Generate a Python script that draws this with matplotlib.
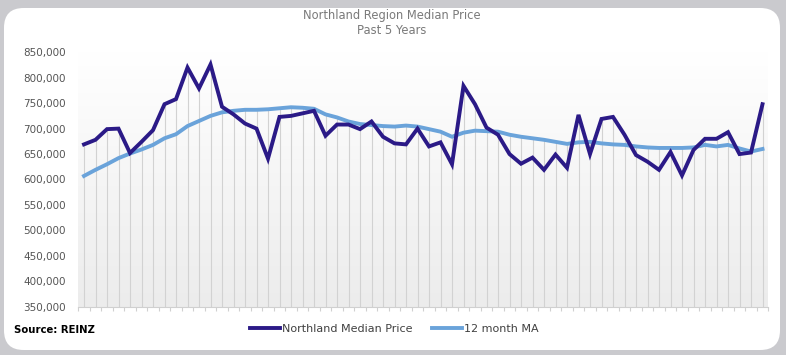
import matplotlib.pyplot as plt
import numpy as np
from matplotlib.colors import LinearSegmentedColormap
from matplotlib.patches import FancyBboxPatch
from matplotlib.ticker import FuncFormatter

# Monthly values, last 5 years (60 months)
median_price = [
    669000, 678000, 699000, 700000, 652000, 674000, 697000, 748000, 758000, 820000,
    779000, 826000, 743000, 728000, 710000, 700000, 641000, 723000, 725000, 730000,
    735000, 686000, 708000, 708000, 699000, 714000, 684000, 671000, 669000, 700000,
    665000, 673000, 630000, 784000, 748000, 702000, 688000, 650000, 631000, 643000,
    619000, 649000, 623000, 727000, 650000, 719000, 723000, 688000, 648000, 635000,
    619000, 654000, 608000, 658000, 680000, 680000, 693000, 650000, 653000, 748000,
]
moving_avg = [
    607000, 619000, 630000, 642000, 651000, 659000, 668000, 681000, 689000, 705000,
    715000, 725000, 732000, 735000, 737000, 737000, 738000, 740000, 742000, 741000,
    739000, 728000, 722000, 714000, 709000, 707000, 705000, 704000, 706000, 704000,
    699000, 694000, 684000, 692000, 696000, 695000, 694000, 688000, 684000, 681000,
    678000, 674000, 670000, 673000, 674000, 671000, 669000, 668000, 665000, 663000,
    662000, 662000, 662000, 663000, 668000, 665000, 668000, 661000, 655000, 660000,
]
series_labels = ['Northland Median Price', '12 month MA']

DARK = '#2b1a87'
LIGHT = '#6aa3da'
TICK_GREY = '#555555'

fig = plt.figure(figsize=(7.86, 3.55), dpi=100)
fig.patch.set_facecolor('#cacace')

# white card behind the chart
card = FancyBboxPatch((4 / 786, 5 / 355), 776 / 786, 342 / 355,
                      boxstyle='round,pad=0,rounding_size=0.025',
                      transform=fig.transFigure, facecolor='white',
                      edgecolor='none', zorder=-1, mutation_aspect=786 / 355)
fig.patches.append(card)

ax = fig.add_axes([78.25 / 786, 1 - 306.7 / 355, 690 / 786, 254.4 / 355])
ax.set_zorder(2)
ax.set_facecolor('none')

x = np.arange(len(median_price))
ax.set_xlim(-0.5, len(median_price) - 0.5)
ax.set_ylim(350000, 850000)

# soft vertical gradient in the plot area
grad = np.linspace(1, 0, 256).reshape(-1, 1)
bg_cmap = LinearSegmentedColormap.from_list('bg', ['#ececec', '#ffffff'])
ax.imshow(grad, extent=(-0.5, len(median_price) - 0.5, 350000, 850000),
          aspect='auto', cmap=bg_cmap, vmin=0, vmax=1, zorder=0)

# drop lines
tops = np.maximum(median_price, moving_avg)
ax.vlines(x, 350000, tops, color='#d2d2d2', linewidth=0.8, zorder=1)

ax.plot(x, median_price, color=DARK, linewidth=2.8, label=series_labels[0],
        zorder=3, solid_joinstyle='miter')
ax.plot(x, moving_avg, color=LIGHT, linewidth=2.8, label=series_labels[1], zorder=2)

for side in ['top', 'right', 'left']:
    ax.spines[side].set_visible(False)
ax.spines['bottom'].set_color('#d0d0d0')
ax.spines['bottom'].set_linewidth(0.8)

ax.set_xticks(np.arange(-0.5, len(median_price), 1))
ax.tick_params(axis='x', length=3, width=0.8, color='#d0d0d0', labelbottom=False)
ax.set_yticks(np.arange(350000, 850001, 50000))
ax.yaxis.set_major_formatter(FuncFormatter(lambda v, p: f'{int(v):,}'))
ax.tick_params(axis='y', length=0, pad=9, labelsize=7.5, labelcolor=TICK_GREY)

fig.text(392 / 786, 1 - 16 / 355, 'Northland Region Median Price', ha='center',
         va='center', fontsize=8.3, color='#7a7a7a')
fig.text(392 / 786, 1 - 31 / 355, 'Past 5 Years', ha='center', va='center',
         fontsize=8.3, color='#7a7a7a')
fig.text(14 / 786, 1 - 330 / 355, 'Source: REINZ', ha='left', va='center',
         fontsize=7.3, fontweight='bold', color='black')

fig.legend(loc='center', bbox_to_anchor=(394.5 / 786, 1 - 328.5 / 355), ncol=2,
           frameon=False, fontsize=8, handlelength=2.7, handletextpad=0.15,
           columnspacing=1.8, labelcolor='#404040')

fig.savefig('out.png', dpi=100, facecolor=fig.get_facecolor())
